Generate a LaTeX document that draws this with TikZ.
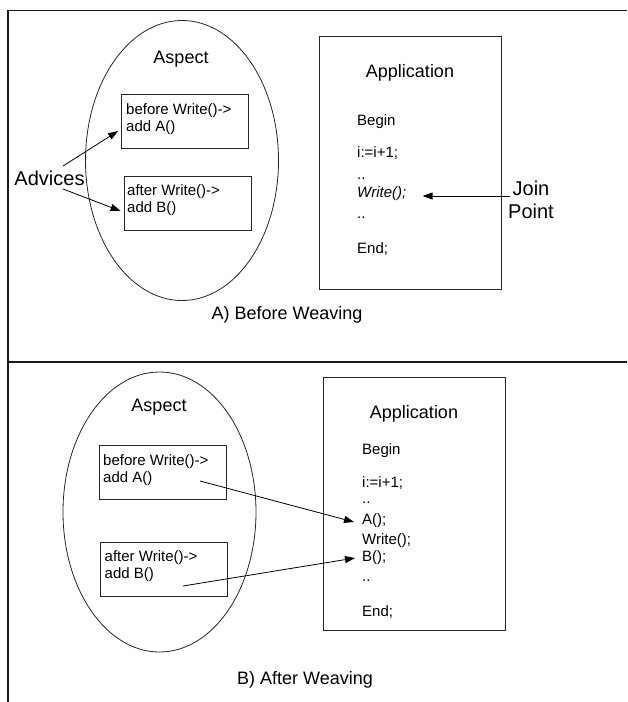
\documentclass[tikz,border=0pt]{standalone}
\usepackage{fontspec}
\setmainfont{Liberation Sans}
\usetikzlibrary{arrows.meta,shapes.geometric}
\begin{document}
\begin{tikzpicture}[x=1pt,y=-1pt,
  shape line/.style={draw=black!85, line width=0.8pt},
  frame line/.style={draw=black!90, line width=1.3pt},
  codeline/.style={font=\fontsize{15}{18}\selectfont, inner sep=0pt, anchor=mid west},
  headline/.style={font=\fontsize{18}{21}\selectfont, inner sep=0pt},
  bigline/.style={font=\fontsize{20}{23}\selectfont, inner sep=0pt, align=center},
  boxnode/.style={shape line, rectangle, inner sep=0pt, minimum width=127pt, minimum height=54pt},
  appnode/.style={shape line, rectangle, inner sep=0pt, minimum width=182pt, minimum height=253pt},
  aspectnode/.style={shape line, ellipse, inner sep=0pt, minimum width=193pt, minimum height=280pt},
  arr/.style={draw=black, line width=0.8pt, -{Triangle[length=10pt,width=7pt]}},
]
\useasboundingbox (0,0) rectangle (627,702);
% frame
\draw[frame line] (8,702) -- (8,10.5) -- (627,10.5);
\draw[frame line] (8,362) -- (627,362);

% ---------- A) Before Weaving ----------
\node[aspectnode] (ellA) at (182,160.5) {};
\node[headline] (aspA) at (181,59) {Aspect};
\node[boxnode] (bA1) at (185,121) {};
\node[codeline] (bA1a) at (126,112) {before Write()->};
\node[codeline] (bA1b) at (126,129) {add A()};
\node[boxnode] (bA2) at (187.5,203) {};
\node[codeline] (bA2a) at (127,193) {after Write()->};
\node[codeline] (bA2b) at (127,210) {add B()};
\node[bigline] (adv) at (49.5,178) {Advices};
\draw[arr] ([shift={(13.5,-12)}]adv.center) -- ([shift={(-3,10)}]bA1.west);
\draw[arr] ([shift={(13.5,11)}]adv.center) -- ([shift={(-3,8)}]bA2.west);

\node[appnode] (appA) at (410,162.5) {};
\node[headline] (appAt) at (410,73) {Application};
\node[codeline] (cA1) at (357,123) {Begin};
\node[codeline] (cA2) at (357,155) {i:=i+1;};
\node[codeline] (cA3) at (357,177) {..};
\node[codeline] (cA4) at (357,195) {\itshape Write();};
\node[codeline] (cA5) at (357,216) {..};
\node[codeline] (cA6) at (357,251) {End;};
\node[bigline] (join) at (531,199.5) {Join\\Point};
\path (join.west |- cA4.mid) ++(2,1) coordinate (jstart);
\draw[arr] (jstart) -- ([xshift=16pt,yshift=-1pt]cA4.mid east);

\node[headline] (capA) at (287,315) {A) Before Weaving};

% ---------- B) After Weaving ----------
\node[aspectnode] (ellB) at (159.5,512) {};
\node[headline] (aspB) at (159,407) {Aspect};
\node[boxnode] (bB1) at (162.5,472.5) {};
\node[codeline] (bB1a) at (103,463) {before Write()->};
\node[codeline] (bB1b) at (103,480) {add A()};
\node[boxnode] (bB2) at (164,569.5) {};
\node[codeline] (bB2a) at (104.5,559) {after Write()->};
\node[codeline] (bB2b) at (104.5,576) {add B()};

\node[appnode] (appB) at (414,503.5) {};
\node[headline] (appBt) at (414,414) {Application};
\node[codeline] (cB1) at (362,451.5) {Begin};
\node[codeline] (cB2) at (362,484.5) {i:=i+1;};
\node[codeline] (cB3) at (362,501) {..};
\node[codeline] (cB4) at (362,522) {A();};
\node[codeline] (cB5) at (362,541.5) {Write();};
\node[codeline] (cB6) at (362,559) {B();};
\node[codeline] (cB7) at (362,579) {..};
\node[codeline] (cB8) at (362,614) {End;};
\draw[arr] ([shift={(37.5,8.5)}]bB1.center) -- ([xshift=-8pt]cB4.mid west);
\draw[arr] ([shift={(19,16.5)}]bB2.center) -- ([shift={(-7,-1)}]cB6.mid west);

\node[headline] (capB) at (305,680) {B) After Weaving};
\end{tikzpicture}
\end{document}
